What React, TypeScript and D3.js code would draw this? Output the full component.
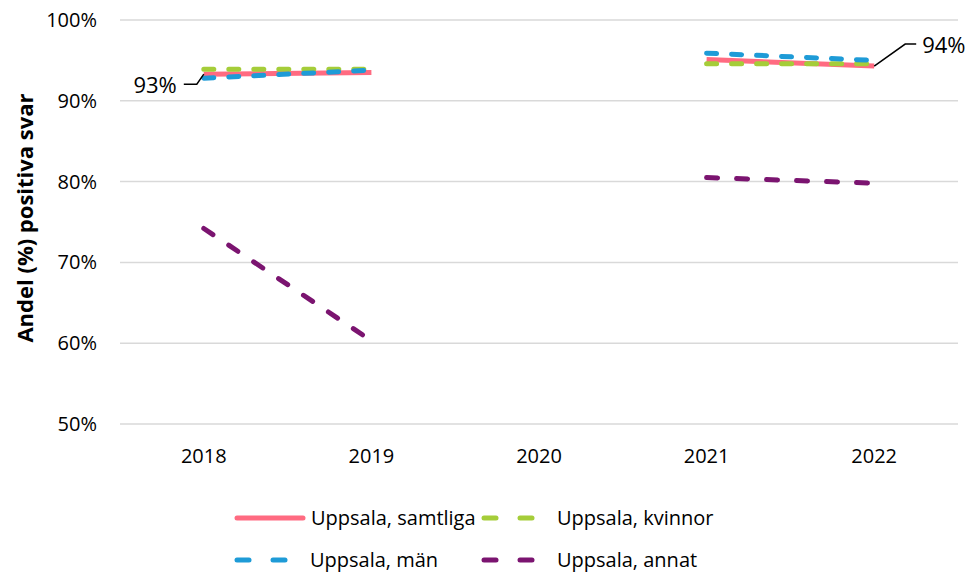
import React, { useEffect, useRef } from "react";
import * as d3 from "d3";

const years = ["2018", "2019", "2020", "2021", "2022"];
const samtliga = [93.3, 93.5, null, 95.1, 94.3];
const kvinnor = [93.9, 93.9, null, 94.6, 94.6];
const man = [92.8, 93.8, null, 95.9, 95.0];
const annat = [74.2, 60.3, null, 80.5, 79.8];
const yTicks = [50, 60, 70, 80, 90, 100];

const series = [
  { name: "Uppsala, samtliga", values: samtliga, color: "#ff6b81", dash: "none", width: 5 },
  { name: "Uppsala, kvinnor", values: kvinnor, color: "#a5cd39", dash: "10 15", width: 5 },
  { name: "Uppsala, män", values: man, color: "#1e9bd7", dash: "10 15", width: 5 },
  { name: "Uppsala, annat", values: annat, color: "#7b1470", dash: "11 19", width: 5 },
];

const App = () => {
  const ref = useRef<SVGSVGElement>(null);

  useEffect(() => {
    const svg = d3.select(ref.current);
    svg.selectAll("*").remove();
    const font = "'Open Sans', sans-serif";

    const x = d3.scaleBand().domain(years).range([120, 958]);
    const y = d3.scaleLinear().domain([50, 100]).range([424, 20]);

    svg
      .append("g")
      .selectAll("line")
      .data(yTicks)
      .enter()
      .append("line")
      .attr("x1", 120)
      .attr("x2", 958)
      .attr("y1", (d) => y(d))
      .attr("y2", (d) => y(d))
      .attr("stroke", "#d9d9d9")
      .attr("stroke-width", 1.5);

    svg
      .append("g")
      .selectAll("text")
      .data(yTicks)
      .enter()
      .append("text")
      .attr("x", 97)
      .attr("y", (d) => y(d))
      .attr("dy", "0.35em")
      .attr("text-anchor", "end")
      .attr("font-family", font)
      .attr("font-size", 20)
      .attr("fill", "#000")
      .text((d) => d + "%");

    svg
      .append("g")
      .selectAll("text")
      .data(years)
      .enter()
      .append("text")
      .attr("x", (d) => x(d)! + x.bandwidth() / 2)
      .attr("y", 456)
      .attr("dy", "0.35em")
      .attr("text-anchor", "middle")
      .attr("font-family", font)
      .attr("font-size", 20)
      .attr("fill", "#000")
      .text((d) => d);

    svg
      .append("text")
      .attr("transform", "translate(25,218) rotate(-90)")
      .attr("dy", "0.35em")
      .attr("text-anchor", "middle")
      .attr("font-family", font)
      .attr("font-size", 22)
      .attr("font-weight", "bold")
      .attr("fill", "#000")
      .text("Andel (%) positiva svar");

    const line = d3
      .line<number | null>()
      .defined((d) => d !== null)
      .x((d, i) => x(years[i])! + x.bandwidth() / 2)
      .y((d) => y(d as number));

    series.forEach((s) => {
      svg
        .append("path")
        .attr("d", line(s.values))
        .attr("fill", "none")
        .attr("stroke", s.color)
        .attr("stroke-width", s.width)
        .attr("stroke-dasharray", s.dash)
        .attr("stroke-linecap", s.dash === "none" ? "butt" : "round");
    });

    // data labels with leader lines
    const cx0 = x(years[0])! + x.bandwidth() / 2;
    const cy0 = y(samtliga[0] as number);
    svg
      .append("path")
      .attr("d", `M${cx0},${cy0} L${cx0 - 7},${cy0 + 10} L${cx0 - 20},${cy0 + 10}`)
      .attr("fill", "none")
      .attr("stroke", "#000")
      .attr("stroke-width", 1.5);
    svg
      .append("text")
      .attr("x", cx0 - 27)
      .attr("y", cy0 + 11)
      .attr("dy", "0.35em")
      .attr("text-anchor", "end")
      .attr("font-family", font)
      .attr("font-size", 22)
      .text("93%");

    const cx4 = x(years[4])! + x.bandwidth() / 2;
    const cy4 = y(samtliga[4] as number);
    svg
      .append("path")
      .attr("d", `M${cx4},${cy4} L${cx4 + 31},${cy4 - 22} L${cx4 + 42},${cy4 - 22}`)
      .attr("fill", "none")
      .attr("stroke", "#000")
      .attr("stroke-width", 1.5);
    svg
      .append("text")
      .attr("x", cx4 + 48)
      .attr("y", cy4 - 21)
      .attr("dy", "0.35em")
      .attr("font-family", font)
      .attr("font-size", 22)
      .text("94%");

    // legend
    const legendPos = [
      { x: 235, y: 518 },
      { x: 482, y: 518 },
      { x: 235, y: 560 },
      { x: 482, y: 560 },
    ];
    series.forEach((s, i) => {
      const p = legendPos[i];
      const g = svg.append("g").attr("transform", `translate(${p.x},${p.y})`);
      if (s.dash === "none") {
        g.append("line")
          .attr("x1", 2)
          .attr("x2", 68)
          .attr("stroke", s.color)
          .attr("stroke-width", 5)
          .attr("stroke-linecap", "round");
      } else {
        [0, 36].forEach((off) => {
          g.append("line")
            .attr("x1", 2 + off)
            .attr("x2", 14 + off)
            .attr("stroke", s.color)
            .attr("stroke-width", 5)
            .attr("stroke-linecap", "round");
        });
      }
      g.append("text")
        .attr("x", s.dash === "none" ? 76 : 75)
        .attr("dy", "0.35em")
        .attr("font-family", font)
        .attr("font-size", 20)
        .attr("fill", "#000")
        .text(s.name);
    });
  });

  return (
    <svg ref={ref} width={973} height={574} style={{ display: "block", position: "absolute", left: 0, top: 0 }} />
  );
};

export default App;
